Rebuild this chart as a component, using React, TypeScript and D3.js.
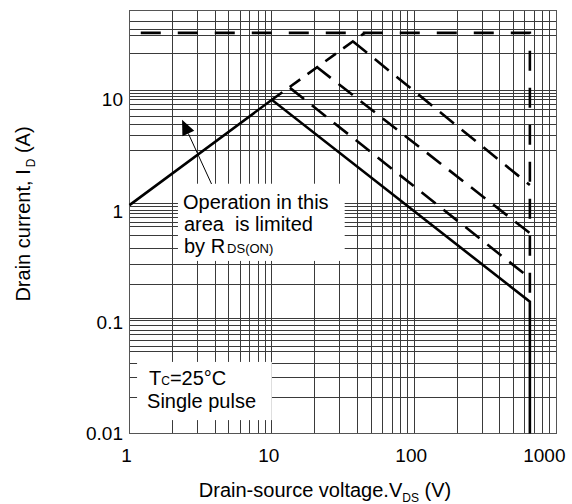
import React, { useEffect, useRef } from 'react';
import * as d3 from 'd3';

// tick labels
const xTicks = [1, 10, 100, 1000];
const xTickLabels = ['1', '10', '100', '1000'];
const yTicks = [0.01, 0.1, 1, 10];
const yTickLabels = ['0.01', '0.1', '1', '10'];

// grid lines (they are not a clean log grid)
const xGrid = [2, 3, 4, 5, 6, 7, 8, 9, 10, 20, 30, 40, 50, 60, 70, 80, 90, 100, 200, 300, 400, 500, 600, 700, 800, 900];
const yGrid = [
  50.6, 42.6, 37.9, 25.9,
  12.1, 11.5, 10.7, 10, 9.0, 8.1, 7.1, 6.0, 4.8, 3.5,
  1.18, 1.1, 1.01, 0.96, 0.87, 0.79, 0.73, 0.6, 0.46, 0.33, 0.22,
  0.109, 0.103, 0.093, 0.085, 0.077, 0.069, 0.06, 0.055, 0.043, 0.032, 0.021,
];

// DC limit (solid)
const dcV = [1, 10, 650, 650];
const dcI = [1.13, 10, 0.153, 0.01];
// R_DS(on) limit extension (dashed)
const rdsV = [10, 45];
const rdsI = [10, 40];
// pulsed current limit
const pulseMaxV = [1.2, 650, 650];
const pulseMaxI = [40, 40, 0.153];
// pulse-width lines
const pulse1V = [13.4, 650];
const pulse1I = [12.8, 0.249];
const pulse2V = [20.6, 650];
const pulse2I = [19.8, 0.632];
const pulse3V = [37.2, 650];
const pulse3I = [33.5, 1.71];

const FONT = "'Liberation Sans', Arial, sans-serif";

const App: React.FC = () => {
  const ref = useRef<SVGSVGElement>(null);

  useEffect(() => {
    if (!ref.current) return;
    const svg = d3.select(ref.current);
    svg.selectAll('*').remove();

    const x = d3.scaleLog().domain([1, 1000]).range([129.5, 556.5]);
    const y = d3.scaleLog().domain([0.01, 63.5]).range([433.5, 10.5]);
    const [x0, x1] = x.range();
    const [y0, y1] = y.range();
    const crisp = (v: number) => Math.round(v - 0.5) + 0.5;

    // grid
    const grid = svg.append('g').attr('stroke', '#3a3a3a').attr('stroke-width', 1);
    grid.selectAll('.gh').data(yGrid).enter().append('line')
      .attr('class', 'gh')
      .attr('x1', x0).attr('x2', x1)
      .attr('y1', d => crisp(y(d))).attr('y2', d => crisp(y(d)));
    grid.selectAll('.gv').data(xGrid).enter().append('line')
      .attr('class', 'gv')
      .attr('y1', y0).attr('y2', y1)
      .attr('x1', d => crisp(x(d))).attr('x2', d => crisp(x(d)));

    // white label boxes over the grid
    const boxes = [
      { v: [2.19, 32.5], i: [1.76, 0.356] },
      { v: [1.13, 10.0], i: [0.044, 0.0132] },
    ];
    svg.selectAll('.box').data(boxes).enter().append('rect')
      .attr('class', 'box')
      .attr('x', d => x(d.v[0]))
      .attr('y', d => y(d.i[0]))
      .attr('width', d => x(d.v[1]) - x(d.v[0]))
      .attr('height', d => y(d.i[1]) - y(d.i[0]))
      .attr('fill', '#fff');

    // frame
    svg.append('rect')
      .attr('x', x0).attr('y', y1)
      .attr('width', x1 - x0).attr('height', y0 - y1)
      .attr('fill', 'none').attr('stroke', '#555').attr('stroke-width', 1);

    const line = d3.line<[number, number]>()
      .x(d => x(d[0]))
      .y(d => y(d[1]));
    const pts = (vs: number[], is: number[]) => vs.map((v, k) => [v, is[k]] as [number, number]);

    const curves = [
      { d: pts(pulseMaxV, pulseMaxI), dash: '20 17' },
      { d: pts(rdsV, rdsI), dash: '13 9' },
      { d: pts(pulse1V, pulse1I), dash: '18 10' },
      { d: pts(pulse2V, pulse2I), dash: '18 10' },
      { d: pts(pulse3V, pulse3I), dash: '18 10' },
      { d: pts(dcV, dcI), dash: null },
    ];
    svg.selectAll('.curve').data(curves).enter().append('path')
      .attr('class', 'curve')
      .attr('d', d => line(d.d))
      .attr('fill', 'none')
      .attr('stroke', '#000')
      .attr('stroke-width', 2.6)
      .attr('stroke-dasharray', d => d.dash)
      .attr('stroke-linejoin', 'miter');

    // arrow
    const tip: [number, number] = [x(2.34), y(6.6)];
    const tail: [number, number] = [x(3.77), y(1.75)];
    const dx = tip[0] - tail[0];
    const dy = tip[1] - tail[1];
    const len = Math.hypot(dx, dy);
    const ux = dx / len, uy = dy / len;
    const headL = 15, headW = 6.5;
    const bx = tip[0] - ux * headL, by = tip[1] - uy * headL;
    svg.append('line')
      .attr('x1', tail[0]).attr('y1', tail[1])
      .attr('x2', bx).attr('y2', by)
      .attr('stroke', '#000').attr('stroke-width', 1);
    svg.append('polygon')
      .attr('points', [
        tip,
        [bx - uy * headW, by + ux * headW],
        [bx + uy * headW, by - ux * headW],
      ].map(p => p.join(',')).join(' '))
      .attr('fill', '#000');

    const txt = svg.append('g')
      .attr('font-family', FONT)
      .attr('fill', '#000');

    // tick labels
    txt.selectAll('.xt').data(xTicks).enter().append('text')
      .attr('class', 'xt')
      .attr('x', (d, k) => (k === xTicks.length - 1 ? x(d) + 9 : x(d) - 3))
      .attr('y', 461.5)
      .attr('text-anchor', (d, k) => (k === xTicks.length - 1 ? 'end' : 'middle'))
      .attr('font-size', 19)
      .text((d, k) => xTickLabels[k]);
    txt.selectAll('.yt').data(yTicks).enter().append('text')
      .attr('class', 'yt')
      .attr('x', 123)
      .attr('y', d => y(d))
      .attr('dy', '0.35em')
      .attr('text-anchor', 'end')
      .attr('font-size', 19)
      .text((d, k) => yTickLabels[k]);

    // axis titles
    const xt = txt.append('text')
      .attr('x', 325).attr('y', 496.5)
      .attr('text-anchor', 'middle')
      .attr('font-size', 20)
      .style('white-space', 'pre');
    xt.append('tspan').text('Drain-source voltage.V');
    xt.append('tspan').attr('font-size', 12).attr('dy', 5).text('DS');
    xt.append('tspan').attr('dy', -5).text(' (V)');

    const yt = txt.append('text')
      .attr('transform', 'translate(29.5,214) rotate(-90)')
      .attr('text-anchor', 'middle')
      .attr('font-size', 20)
      .style('white-space', 'pre');
    yt.append('tspan').text('Drain current, I');
    yt.append('tspan').attr('font-size', 12).attr('dy', 5).attr('dx', 2).text('D');
    yt.append('tspan').attr('dy', -5).text(' (A)');

    // annotation 1
    const b1x = x(boxes[0].v[0]) + 5;
    const b1y = y(boxes[0].i[0]);
    txt.append('text').attr('x', b1x).attr('y', b1y + 25).attr('font-size', 20).text('Operation in this');
    txt.append('text').attr('x', b1x + 1).attr('y', b1y + 47.5).attr('font-size', 20)
      .attr('xml:space', 'preserve')
      .style('white-space', 'pre')
      .text('area  is limited');
    const by1 = txt.append('text').attr('x', b1x + 1).attr('y', b1y + 69.5).attr('font-size', 20);
    by1.append('tspan').text('by R');
    by1.append('tspan').attr('dx', 2).attr('font-size', 13).text('DS(ON)');

    // annotation 2
    const b2x = x(boxes[1].v[0]);
    const b2y = y(boxes[1].i[0]);
    const tc = txt.append('text').attr('x', b2x + 12).attr('y', b2y + 23).attr('font-size', 20);
    tc.append('tspan').text('T');
    tc.append('tspan').attr('font-size', 12).text('C');
    tc.append('tspan').text('=25°C');
    txt.append('text').attr('x', b2x + 10).attr('y', b2y + 46).attr('font-size', 20).text('Single pulse');
  }, []);

  return (
    <div style={{ position: 'absolute', left: 0, top: 0 }}>
      <svg ref={ref} width={572} height={504} style={{ display: 'block', background: '#fff' }} />
    </div>
  );
};

export default App;
